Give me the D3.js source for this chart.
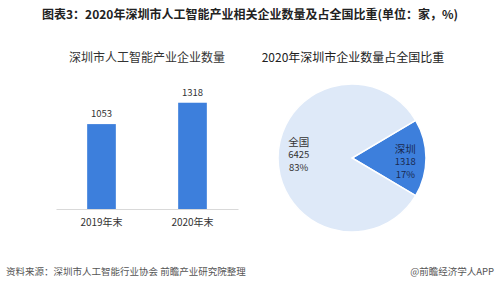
<!DOCTYPE html>
<html>
<head>
<meta charset="utf-8">
<script src="https://cdn.jsdelivr.net/npm/d3@7"></script>
<style>
  body { margin: 0; background: #fff; }
  text { font-family: "Noto Sans CJK SC", "Noto Sans", sans-serif; }
</style>
</head>
<body>
<div id="chart"></div>
<script>
// Data
const barCategories = ["2019年末", "2020年末"];
const barValues = [1053, 1318];
const pieNames = ["深圳", "全国"];
const pieValues = [1318, 6425];
const pieShares = ["17%", "83%"];

const WIDTH = 499;
const HEIGHT = 286;
const BLUE = "#3d7fdc";
const LIGHT = "#dee9f8";

const svg = d3.select("#chart").append("svg")
    .attr("width", WIDTH).attr("height", HEIGHT);

// Main title
svg.append("text")
    .attr("x", 250).attr("y", 19)
    .attr("text-anchor", "middle")
    .attr("font-size", 12).attr("font-weight", "bold").attr("fill", "#222")
    .text("图表3：2020年深圳市人工智能产业相关企业数量及占全国比重(单位：家，%)");

// ---- Bar chart ----
const barTitleY = 62;
svg.append("text")
    .attr("x", 147).attr("y", barTitleY)
    .attr("text-anchor", "middle")
    .attr("font-size", 12).attr("fill", "#333")
    .text("深圳市人工智能产业企业数量");

const baseY = 209;
const x = d3.scaleBand()
    .domain(barCategories)
    .range([56, 238])
    .paddingInner(0.685)
    .paddingOuter(0.3425);

const y = d3.scaleLinear()
    .domain([0, 1600])
    .range([baseY, 80]);

const barG = svg.append("g");

barG.selectAll(".bar")
    .data(barCategories)
    .enter().append("rect")
    .attr("class", "bar")
    .attr("x", d => x(d))
    .attr("y", (d, i) => y(barValues[i]))
    .attr("width", x.bandwidth())
    .attr("height", (d, i) => baseY - y(barValues[i]))
    .attr("fill", BLUE);

barG.selectAll(".val")
    .data(barCategories)
    .enter().append("text")
    .attr("class", "val")
    .attr("x", d => x(d) + x.bandwidth() / 2)
    .attr("y", (d, i) => y(barValues[i]) - 7)
    .attr("text-anchor", "middle")
    .attr("font-size", 9.5).attr("fill", "#333")
    .text((d, i) => barValues[i]);

// x axis
const xAxis = barG.append("g")
    .attr("transform", `translate(0,${baseY})`)
    .call(d3.axisBottom(x).tickSize(0).tickPadding(10));
xAxis.select(".domain").attr("stroke", "#d9d9d9").attr("stroke-width", 1);
xAxis.selectAll("text")
    .attr("font-size", 10).attr("fill", "#333")
    .attr("font-family", "\"Noto Sans CJK SC\", sans-serif");

// ---- Pie chart ----
svg.append("text")
    .attr("x", 353).attr("y", barTitleY)
    .attr("text-anchor", "middle")
    .attr("font-size", 12).attr("fill", "#222")
    .text("2020年深圳市企业数量占全国比重");

const cx = 352, cy = 158, radius = 74;
const total = d3.sum(pieValues);
const startA = Math.PI / 2 - Math.PI * pieValues[0] / total;

const pie = d3.pie()
    .sort(null)
    .startAngle(startA)
    .endAngle(startA + 2 * Math.PI);

const arc = d3.arc().innerRadius(0).outerRadius(radius);
const labelArc = d3.arc().innerRadius(radius * 0.72).outerRadius(radius * 0.72);

const pieG = svg.append("g").attr("transform", `translate(${cx},${cy})`);
const slices = pie(pieValues);

pieG.selectAll(".slice")
    .data(slices)
    .enter().append("path")
    .attr("class", "slice")
    .attr("d", arc)
    .attr("fill", (d, i) => i === 0 ? BLUE : LIGHT)
    .attr("stroke", "#fff")
    .attr("stroke-width", 1.5);

slices.forEach((s, i) => {
    const [lx, ly] = labelArc.centroid(s);
    const color = i === 0 ? "#1a2a50" : "#333";
    const lines = [pieNames[i], pieValues[i], pieShares[i]];
    const shift = i === 0 ? 3 : -4;
    lines.forEach((t, j) => {
        pieG.append("text")
            .attr("x", lx)
            .attr("y", ly + shift + (j - 1) * 12.5 + 4)
            .attr("text-anchor", "middle")
            .attr("font-size", j === 0 ? 10.5 : 9.5)
            .attr("fill", color)
            .text(t);
    });
});

// ---- Footer ----
svg.append("text")
    .attr("x", 6).attr("y", 275)
    .attr("font-size", 9.5).attr("fill", "#555")
    .text("资料来源：深圳市人工智能行业协会 前瞻产业研究院整理");

svg.append("text")
    .attr("x", 494).attr("y", 275)
    .attr("text-anchor", "end")
    .attr("font-size", 9.5).attr("fill", "#555")
    .text("@前瞻经济学人APP");
</script>
</body>
</html>
